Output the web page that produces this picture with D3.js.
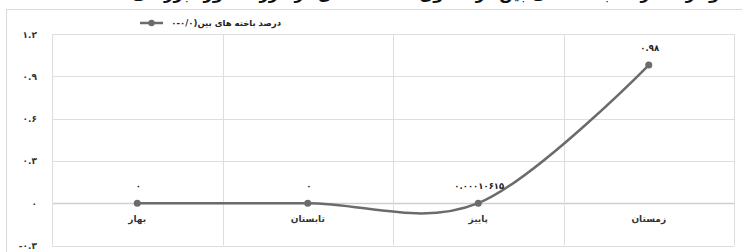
<!DOCTYPE html>
<html><head><meta charset="utf-8">
<script src="https://cdn.jsdelivr.net/npm/d3@7/dist/d3.min.js"></script>
<style>
html,body{margin:0;padding:0;background:#fff;}
svg{display:block;font-family:"DejaVu Sans",sans-serif;}
</style></head>
<body>
<svg id="chart" width="742" height="252"></svg>
<script>
const categories = ["بهار", "تابستان", "پاییز", "زمستان"];
const values = [0, 0, 0.00010615, 0.98];
const valueLabels = ["۰", "۰", "۰.۰۰۰۱۰۶۱۵", "۰.۹۸"];
const yTicks = [-0.3, 0, 0.3, 0.6, 0.9, 1.2];
const yTickLabels = ["-۰.۳", "۰", "۰.۳", "۰.۶", "۰.۹", "۱.۲"];
const seriesName = "درصد باخته های بین(۰/۰-۰";
const titleText = "نمودار ۴: درصد باخته های بین در فصول مختلف سال در مزرعه مورد بررسی";

const svg = d3.select("#chart");
const W = 742, H = 252;
const plot = {left: 52, right: 734, top: 34, bottom: 245.5};

// title (cut off at the top edge, as in the reference)
const title = svg.append("text").attr("x", 736).attr("y", -1).attr("text-anchor", "start")
  .attr("direction", "rtl").attr("font-size", 15).attr("font-weight", "bold")
  .attr("fill", "#111").text(titleText);
const tw = title.node().getComputedTextLength();
if (tw > 0) title.attr("font-size", 15 * 605 / tw);

// outer chart border
svg.append("rect").attr("x", 6.5).attr("y", 9.5).attr("width", 760).attr("height", 260)
  .attr("fill", "none").attr("stroke", "#d9d9d9").attr("stroke-width", 1);

const x = d3.scaleBand().domain(categories).range([plot.left, plot.right]);
const y = d3.scaleLinear().domain([-0.3, 1.2]).range([plot.bottom, plot.top]);

// horizontal gridlines
svg.append("g").selectAll("line").data(yTicks).join("line")
  .attr("x1", plot.left).attr("x2", plot.right)
  .attr("y1", d => Math.round(y(d)) + 0.5).attr("y2", d => Math.round(y(d)) + 0.5)
  .attr("stroke", d => d === 0 ? "#cfcfcf" : "#dedede")
  .attr("stroke-width", d => d === 0 ? 1.5 : 1);

// vertical gridlines at category boundaries
const bounds = categories.map(c => x(c)).concat([x(categories[categories.length-1]) + x.bandwidth()]);
svg.append("g").selectAll("line").data(bounds).join("line")
  .attr("x1", d => Math.round(d) + 0.5).attr("x2", d => Math.round(d) + 0.5)
  .attr("y1", plot.top).attr("y2", plot.bottom)
  .attr("stroke", "#dedede").attr("stroke-width", 1);

// y tick labels
svg.append("g").selectAll("text").data(yTicks).join("text")
  .attr("x", 37).attr("y", d => y(d) + 3.5).attr("text-anchor", "end")
  .attr("font-size", 9).attr("font-weight", "bold").attr("fill", "#333")
  .attr("direction", "ltr")
  .text((d, i) => yTickLabels[i]);

// category labels
svg.append("g").selectAll("text").data(categories).join("text")
  .attr("x", d => x(d) + x.bandwidth() / 2).attr("y", y(0) + 19)
  .attr("text-anchor", "middle").attr("font-size", 9).attr("font-weight", "bold")
  .attr("fill", "#333").text(d => d);

const pts = categories.map((c, i) => [x(c) + x.bandwidth() / 2, y(values[i])]);

// smoothed line
const line = d3.line().curve(d3.curveCardinal.tension(0));
svg.append("path").attr("d", line(pts)).attr("fill", "none")
  .attr("stroke", "#6b6b6b").attr("stroke-width", 2.5);

svg.append("g").selectAll("circle").data(pts).join("circle")
  .attr("cx", d => d[0]).attr("cy", d => d[1]).attr("r", 3.5).attr("fill", "#6b6b6b");

// data labels
svg.append("g").selectAll("text").data(pts).join("text")
  .attr("x", d => d[0] + 1).attr("y", d => d[1] - 14)
  .attr("text-anchor", "middle").attr("font-size", 8.5).attr("font-weight", "bold")
  .attr("fill", "#222").attr("direction", "ltr")
  .text((d, i) => valueLabels[i]);

// legend
const lg = svg.append("g");
lg.append("line").attr("x1", 140).attr("x2", 163).attr("y1", 23).attr("y2", 23)
  .attr("stroke", "#6b6b6b").attr("stroke-width", 2.5);
lg.append("circle").attr("cx", 151.5).attr("cy", 23).attr("r", 3.2).attr("fill", "#6b6b6b");
lg.append("text").attr("x", 281).attr("y", 26).attr("text-anchor", "start")
  .attr("direction", "rtl").attr("font-size", 8.5).attr("font-weight", "bold")
  .attr("fill", "#222").text(seriesName);
</script>
</body></html>
